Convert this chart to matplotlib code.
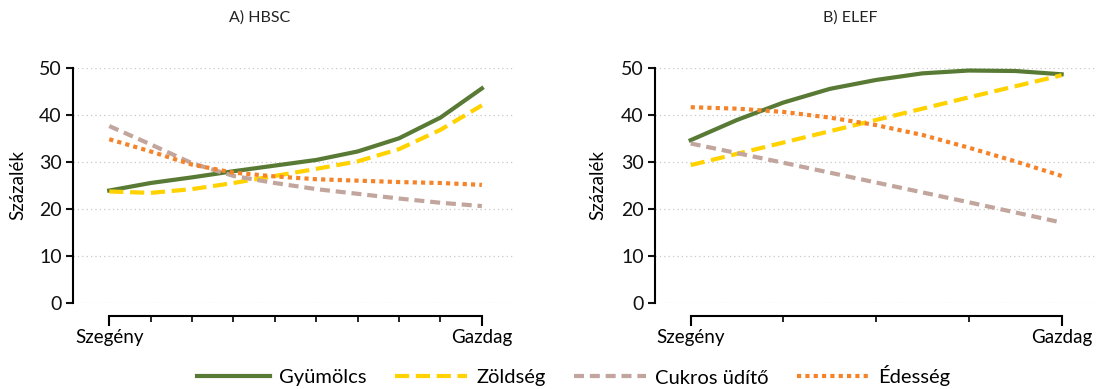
import numpy as np
import matplotlib.pyplot as plt

plt.rcParams['font.family'] = ['Lato', 'DejaVu Sans']

# HBSC: ten income groups from poorest to richest
hbsc_x = list(range(10))
hbsc_gyumolcs = [23.9, 25.5, 26.7, 28.0, 29.2, 30.4, 32.2, 35.0, 39.4, 45.6]
hbsc_zoldseg = [23.7, 23.4, 24.2, 25.5, 27.0, 28.5, 30.1, 32.7, 36.8, 42.0]
hbsc_udito = [37.6, 33.7, 29.7, 27.0, 25.5, 24.2, 23.2, 22.2, 21.3, 20.6]
hbsc_edesseg = [34.8, 32.2, 29.4, 27.7, 26.9, 26.3, 26.0, 25.7, 25.5, 25.1]

# ELEF: five quintiles, curved series read at half steps
elef_x5 = [0, 1, 2, 3, 4]
elef_x9 = [0, 0.5, 1, 1.5, 2, 2.5, 3, 3.5, 4]
elef_gyumolcs = [34.6, 38.9, 42.6, 45.5, 47.4, 48.8, 49.4, 49.3, 48.6]
elef_zoldseg = [29.3, 34.1, 38.9, 43.7, 48.4]
elef_udito = [33.9, 29.8, 25.6, 21.4, 17.1]
elef_edesseg = [41.6, 41.3, 40.6, 39.4, 37.8, 35.7, 33.0, 30.1, 27.0]

labels = ['Gyümölcs', 'Zöldség', 'Cukros üdítő', 'Édesség']
colors = ['#587a34', '#ffd200', '#c2a59c', '#f5832a']
styles = [dict(ls='-'),
          dict(ls=(0, (3.4, 1.6))),
          dict(ls=(0, (2.4, 1.4))),
          dict(ls=(0, (1, 1)))]
ends = ['Szegény', 'Gazdag']

W, H = 1098, 389
fig = plt.figure(figsize=(W / 100, H / 100), dpi=100)


def px_axes(x0, x1, ytop, ybot):
    return fig.add_axes([x0 / W, 1 - ybot / H, (x1 - x0) / W, (ybot - ytop) / H])


def style_axes(ax, n, xmin, xmax):
    ax.set_xlim(xmin, xmax)
    ax.set_ylim(0, 50)
    for s in ['top', 'right']:
        ax.spines[s].set_visible(False)
    ax.spines['left'].set_bounds(0, 50)
    ax.spines['left'].set_linewidth(1.5)
    ax.spines['bottom'].set_position(('outward', 9.5))
    ax.spines['bottom'].set_bounds(0, n)
    ax.spines['bottom'].set_linewidth(1.5)
    ax.set_yticks([0, 10, 20, 30, 40, 50])
    ax.tick_params(axis='y', length=5, width=1.5, pad=3, labelsize=14, colors='#111111')
    ax.set_xticks([0, n])
    ax.set_xticklabels(ends)
    ax.set_xticks(np.arange(1, n), minor=True)
    ax.tick_params(axis='x', which='major', length=7, width=1.5, pad=2.5, labelsize=13.5)
    ax.tick_params(axis='x', which='minor', length=4.5, width=1.2)
    ax.grid(axis='y', color='#c8c8c8', ls=(0, (1, 2.5)), lw=0.9)
    ax.set_axisbelow(True)


ax1 = px_axes(73, 515, 67.7, 303)
style_axes(ax1, 9, -0.876, 9.8)
ax2 = px_axes(655, 1095, 67.7, 303)
style_axes(ax2, 4, -0.385, 4.36)

lw = 3
hbsc = [hbsc_gyumolcs, hbsc_zoldseg, hbsc_udito, hbsc_edesseg]
for vals, c, st, lab in zip(hbsc, colors, styles, labels):
    ax1.plot(hbsc_x, vals, color=c, lw=lw, label=lab, clip_on=False, **st)

ax2.plot(elef_x9, elef_gyumolcs, color=colors[0], lw=lw, clip_on=False, **styles[0])
ax2.plot(elef_x5, elef_zoldseg, color=colors[1], lw=lw, clip_on=False, **styles[1])
ax2.plot(elef_x5, elef_udito, color=colors[2], lw=lw, clip_on=False, **styles[2])
ax2.plot(elef_x9, elef_edesseg, color=colors[3], lw=lw, clip_on=False, **styles[3])

fig.text(260 / W, 1 - 18 / H, 'A) HBSC', ha='center', va='center', fontsize=11.5,
         color='#222222')
fig.text(850 / W, 1 - 18 / H, 'B) ELEF', ha='center', va='center', fontsize=11.5,
         color='#222222')
fig.text(18 / W, 1 - 185 / H, 'Százalék', rotation=90, ha='center', va='center', fontsize=13.5)
fig.text(598 / W, 1 - 185 / H, 'Százalék', rotation=90, ha='center', va='center', fontsize=13.5)

fig.legend(loc='center', bbox_to_anchor=(574 / W, 1 - 376 / H), ncol=4, frameon=False,
           fontsize=14.5, handlelength=3.6, handletextpad=0.45, columnspacing=1.4)

fig.savefig('out.png', dpi=100)
